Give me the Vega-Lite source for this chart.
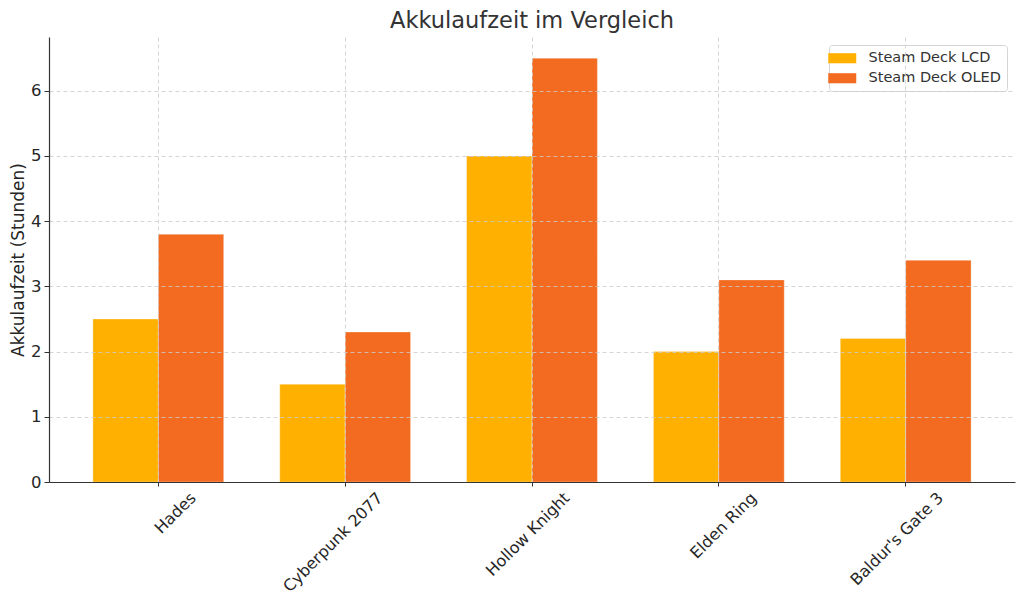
{
  "$schema": "https://vega.github.io/schema/vega-lite/v6.json",
  "autosize": {"type": "none"},
  "padding": {"left": 49, "top": 37, "right": 9, "bottom": 129},
  "width": 966,
  "height": 445,
  "background": "#ffffff",
  "title": {
    "text": "Akkulaufzeit im Vergleich",
    "font": "DejaVu Sans",
    "fontSize": 22.5,
    "fontWeight": "normal",
    "color": "#333333",
    "anchor": "middle",
    "offset": 5
  },
  "data": {
    "values": [
      {"Spiel": "Hades", "Modell": "Steam Deck LCD", "Stunden": 2.5},
      {"Spiel": "Hades", "Modell": "Steam Deck OLED", "Stunden": 3.8},
      {"Spiel": "Cyberpunk 2077", "Modell": "Steam Deck LCD", "Stunden": 1.5},
      {"Spiel": "Cyberpunk 2077", "Modell": "Steam Deck OLED", "Stunden": 2.3},
      {"Spiel": "Hollow Knight", "Modell": "Steam Deck LCD", "Stunden": 5.0},
      {"Spiel": "Hollow Knight", "Modell": "Steam Deck OLED", "Stunden": 6.5},
      {"Spiel": "Elden Ring", "Modell": "Steam Deck LCD", "Stunden": 2.0},
      {"Spiel": "Elden Ring", "Modell": "Steam Deck OLED", "Stunden": 3.1},
      {"Spiel": "Baldur's Gate 3", "Modell": "Steam Deck LCD", "Stunden": 2.2},
      {"Spiel": "Baldur's Gate 3", "Modell": "Steam Deck OLED", "Stunden": 3.4}
    ]
  },
  "mark": {"type": "bar", "stroke": "#ffffff", "strokeWidth": 0.6, "strokeOpacity": 0.5},
  "encoding": {
    "x": {
      "field": "Spiel",
      "type": "nominal",
      "sort": null,
      "scale": {"paddingInner": 0.3, "paddingOuter": 0.235},
      "axis": {
        "title": null,
        "bandPosition": 0.5,
        "zindex": 1,
        "labelAngle": -45,
        "labelAlign": "right",
        "labelBaseline": "middle",
        "labelOffset": 35,
        "labelPadding": 9,
        "labelFontSize": 16,
        "labelFont": "DejaVu Sans",
        "labelColor": "#262626",
        "tickSize": 4,
        "tickColor": "#333333",
        "domainColor": "#333333",
        "domainWidth": 1.2,
        "grid": true,
        "gridColor": "#cccccc",
        "gridDash": [4, 3],
        "gridWidth": 0.8
      }
    },
    "xOffset": {
      "field": "Modell",
      "type": "nominal",
      "scale": {"paddingInner": 0, "paddingOuter": 0}
    },
    "y": {
      "field": "Stunden",
      "type": "quantitative",
      "scale": {"domain": [0, 6.825], "nice": false, "zero": true},
      "axis": {
        "title": "Akkulaufzeit (Stunden)",
        "titleFont": "DejaVu Sans",
        "titleFontSize": 17,
        "titleFontWeight": "normal",
        "titleColor": "#262626",
        "titlePadding": 3,
        "values": [0, 1, 2, 3, 4, 5, 6],
        "zindex": 1,
        "labelFontSize": 16.5,
        "labelFont": "DejaVu Sans",
        "labelColor": "#262626",
        "labelPadding": 3,
        "tickSize": 5,
        "tickColor": "#333333",
        "domainColor": "#333333",
        "domainWidth": 1.2,
        "grid": true,
        "gridColor": "#cccccc",
        "gridDash": [4, 3],
        "gridWidth": 0.8
      }
    },
    "color": {
      "field": "Modell",
      "type": "nominal",
      "scale": {
        "domain": ["Steam Deck LCD", "Steam Deck OLED"],
        "range": ["#FFB000", "#F26B21"]
      },
      "legend": {
        "title": null,
        "orient": "top-right",
        "offset": 8,
        "padding": 6,
        "fillColor": "#ffffff",
        "strokeColor": "#d5d5d5",
        "cornerRadius": 3,
        "symbolType": "M-2,-0.72H2V0.72H-2Z",
        "symbolSize": 196,
        "symbolStrokeWidth": 0,
        "symbolOpacity": 1,
        "rowPadding": 5,
        "labelFont": "DejaVu Sans",
        "labelFontSize": 14.5,
        "labelColor": "#333333",
        "labelOffset": 19
      }
    }
  },
  "config": {
    "view": {"stroke": null},
    "font": "DejaVu Sans"
  }
}
